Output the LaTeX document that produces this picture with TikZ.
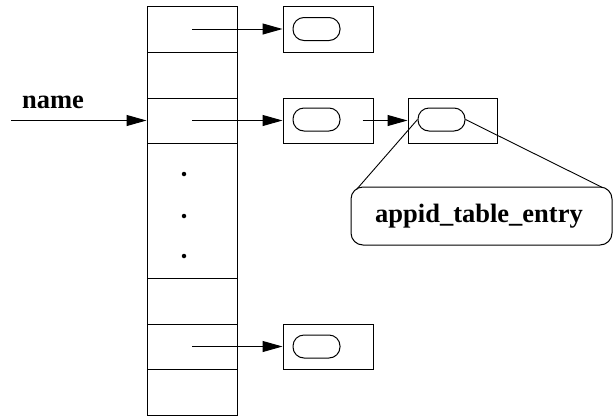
\documentclass[tikz,border=0pt]{standalone}
\usepackage{fontspec}
\setmainfont{Liberation Serif}
\usetikzlibrary{arrows.meta,calc}

\tikzset{
  cell/.style={draw, minimum width=90pt, inner sep=0pt},
  recbox/.style={draw, minimum width=90pt, minimum height=45pt, inner sep=0pt},
  pill/.style={draw, rounded corners=11pt, minimum width=47pt, minimum height=23pt, inner sep=0pt},
  ptr/.style={-{Triangle[length=20pt,width=11pt]}},
  lbl/.style={font=\bfseries\fontsize{26.5}{30}\selectfont, inner sep=0pt},
  dot/.style={circle, fill, inner sep=0pt, minimum size=4.5pt},
}

\begin{document}
\begin{tikzpicture}[x=1pt, y=-1pt, line width=1pt, line join=miter]
  \useasboundingbox (0,0) rectangle (613,416);

  % hash table column
  \node[cell, minimum height=46pt]  (c1) at (192,29)    {};
  \node[cell, minimum height=46pt]  (c2) at (192,75)    {};
  \node[cell, minimum height=45pt]  (c3) at (192,120.5) {};
  \node[cell, minimum height=135pt] (c4) at (192,210.5) {};
  \node[cell, minimum height=46pt]  (c5) at (192,301)   {};
  \node[cell, minimum height=45pt]  (c6) at (192,346.5) {};
  \node[cell, minimum height=46pt]  (c7) at (192,392)   {};

  % ellipsis dots
  \node[dot] (d1) at (184,174) {};
  \node[dot] (d2) at (184,216) {};
  \node[dot] (d3) at (184,256) {};

  % chained records
  \node[recbox, minimum height=46pt] (b1) at (328,29) {};
  \node[pill] (p1) at (316.5,29) {};
  \node[recbox] (b3) at (328,120.5) {};
  \node[pill] (p3) at (316.5,119.5) {};
  \node[recbox] (b6) at (328,346.5) {};
  \node[pill] (p6) at (316.5,346.5) {};
  \node[recbox, minimum width=89pt] (ba) at (452.5,120.5) {};
  \node[pill] (pa) at (441.5,119.5) {};

  % expanded entry
  \node[draw, rounded corners=12pt, minimum width=261pt, minimum height=58pt, inner sep=0pt]
    (entry) at (481.5,216) {};
  \node[lbl] (entrytext) at (479,216) {appid\_table\_entry};

  % incoming key
  \coordinate (nstart) at (11,120.5);
  \node[lbl] (name) at (53,102) {name};
  \draw[ptr] (nstart) -- (c3.west);

  % pointers
  \draw[ptr] (c1.center) -- (b1.west);
  \draw[ptr] (c3.center) -- (b3.west);
  \draw[ptr] (c6.center) -- (b6.west);
  \coordinate (nxt) at ($(p3.east)+(22,1)$);
  \draw[ptr] (nxt) -- (ba.west);

  % zoom lines onto the entry
  \draw[line width=0.9pt] (pa.west) -- ($(entry.north west)+(6,3)$);
  \draw[line width=0.9pt] (pa.east) -- ($(entry.north east)+(-10,1)$);
\end{tikzpicture}
\end{document}
